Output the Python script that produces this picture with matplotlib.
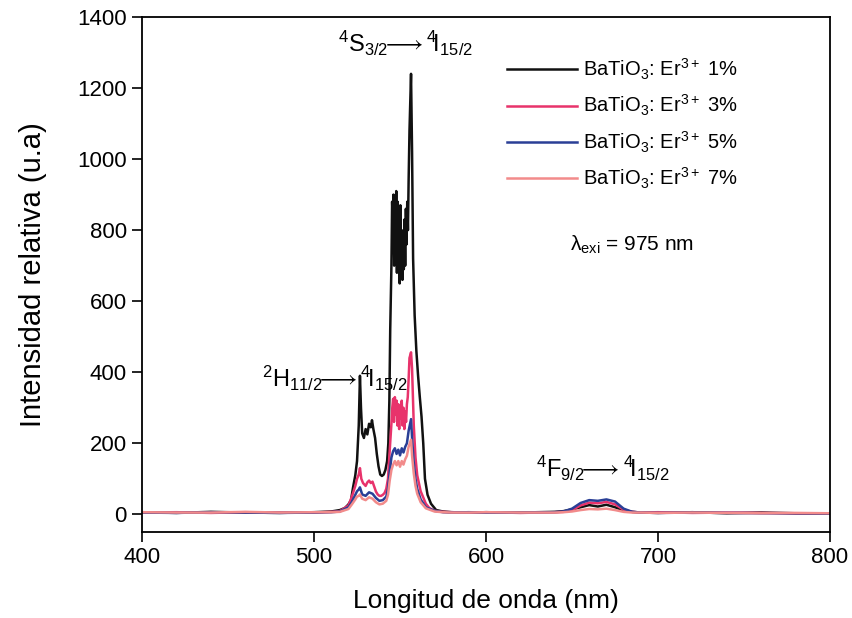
import matplotlib
matplotlib.use("Agg")
import matplotlib.pyplot as plt
import numpy as np

plt.rcParams['font.family'] = ['Liberation Sans', 'DejaVu Sans']
plt.rcParams['mathtext.fontset'] = 'custom'
plt.rcParams['mathtext.rm'] = 'Liberation Sans'
plt.rcParams['mathtext.it'] = 'Liberation Sans:italic'

# espectros (longitud de onda en nm, intensidad en u.a.)
wl_1 = [400, 420, 440, 460, 480, 500, 510, 515, 518, 520, 521.5, 522.7, 524, 525, 526, 526.7, 527.3, 528,
        529, 530, 531, 532, 533, 533.7, 534.5, 535.5, 536.5, 537.5, 538.5, 539.5, 540.5, 541.5, 542.5, 543.2,
        543.8, 544.3, 545, 545.4, 545.8, 546.2, 546.6, 547, 547.4, 547.8, 548.2, 548.6, 549, 549.4, 549.8,
        550.2, 550.6, 551, 551.4, 551.8, 552.2, 552.6, 553, 553.4, 553.8, 554.2, 554.6, 555, 555.5, 556.4,
        557, 557.6, 558.5, 559.5, 560.5, 561.5, 562.5, 563.5, 564.5, 566, 568, 571, 575, 580, 590, 600, 620,
        640, 645, 650, 655, 660, 665, 670, 675, 680, 685, 690, 700, 720, 740, 760, 780, 800]
int_1 = [6, 4, 7, 5, 4, 6, 8, 12, 18, 28, 40, 76, 110, 150, 250, 390, 300, 228, 215, 240, 225, 255, 245, 265,
         240, 215, 170, 135, 112, 108, 112, 125, 150, 200, 320, 520, 700, 880, 820, 900, 700, 860, 760, 910,
         680, 880, 700, 820, 650, 870, 720, 800, 660, 780, 690, 830, 700, 860, 760, 880, 800, 940, 1080, 1240,
         1020, 720, 560, 460, 390, 330, 275, 200, 100, 55, 30, 12, 8, 6, 5, 6, 5, 7, 9, 14, 20, 26, 22, 27, 20,
         11, 7, 5, 4, 6, 3, 5, 3, 2]

wl_3 = [400, 420, 440, 460, 480, 500, 510, 515, 520, 522, 524, 525, 526, 526.7, 527.5, 528.5, 530, 531, 532,
        533, 534, 535, 536, 537, 538, 539, 540, 541, 542, 543, 544, 545, 545.5, 546, 546.5, 547, 547.5, 548,
        548.5, 549, 549.5, 550, 550.5, 551, 551.5, 552, 552.5, 553, 553.5, 554, 554.5, 555, 555.5, 556.4, 557,
        557.5, 558, 559, 560, 562, 565, 567, 570, 575, 580, 590, 600, 620, 640, 645, 650, 655, 660, 665, 670,
        675, 680, 685, 690, 700, 720, 740, 760, 780, 800]
int_3 = [5, 6, 4, 6, 5, 5, 7, 9, 25, 50, 80, 100, 112, 130, 100, 88, 80, 90, 95, 88, 92, 78, 64, 56, 52, 52,
         55, 60, 72, 100, 180, 255, 300, 325, 260, 330, 280, 320, 250, 310, 240, 300, 270, 320, 250, 300, 240,
         290, 260, 310, 330, 380, 440, 456, 410, 330, 250, 160, 110, 65, 30, 18, 10, 7, 6, 5, 6, 4, 6, 7, 12,
         25, 33, 31, 35, 28, 13, 7, 5, 6, 4, 5, 4, 3, 3]

wl_5 = [400, 420, 440, 460, 480, 500, 510, 515, 520, 522, 524, 525, 526, 526.7, 528, 530, 532, 534, 536, 538,
        540, 542, 543, 544, 545, 546, 547, 548, 549, 550, 551, 552, 553, 554, 555, 556.4, 557, 558, 559, 560,
        562, 565, 570, 575, 580, 590, 600, 620, 640, 645, 650, 655, 660, 665, 670, 675, 680, 685, 690, 700,
        720, 740, 760, 780, 800]
int_5 = [5, 4, 6, 5, 4, 5, 6, 8, 20, 35, 55, 65, 70, 76, 56, 52, 62, 58, 46, 38, 40, 50, 72, 120, 160, 178,
         186, 170, 182, 166, 186, 174, 190, 200, 235, 268, 215, 145, 100, 72, 42, 20, 10, 6, 5, 6, 5, 5, 6, 8,
         16, 32, 40, 38, 42, 36, 16, 7, 5, 4, 5, 4, 3, 3, 2]

wl_7 = [400, 420, 440, 460, 480, 500, 510, 515, 520, 522, 524, 525, 526, 526.7, 528, 530, 532, 534, 536, 538,
        540, 542, 543, 544, 545, 546, 547, 548, 549, 550, 551, 552, 553, 554, 555, 556.4, 557, 558, 559, 560,
        562, 565, 570, 575, 580, 590, 600, 620, 640, 645, 650, 655, 660, 665, 670, 675, 680, 685, 690, 700,
        720, 740, 760, 780, 800]
int_7 = [6, 5, 5, 7, 5, 6, 6, 7, 15, 28, 42, 50, 52, 56, 44, 40, 48, 44, 34, 28, 30, 38, 55, 95, 125, 140,
         150, 138, 150, 134, 150, 140, 155, 165, 190, 210, 165, 115, 80, 58, 34, 17, 8, 6, 5, 5, 6, 5, 5, 6,
         8, 12, 15, 14, 16, 12, 7, 5, 5, 4, 5, 4, 3, 4, 3]

series = [(wl_1, int_1, '#111111', 'BaTiO$_3$: Er$^{3+}$ 1%'),
          (wl_3, int_3, '#e8336b', 'BaTiO$_3$: Er$^{3+}$ 3%'),
          (wl_5, int_5, '#2a3f96', 'BaTiO$_3$: Er$^{3+}$ 5%'),
          (wl_7, int_7, '#f28b8b', 'BaTiO$_3$: Er$^{3+}$ 7%')]

fig = plt.figure(figsize=(8.52, 6.18), dpi=100)
ax = fig.add_axes([0.1667, 0.139, 0.8075, 0.8335])

for wl, inten, color, label in series:
    ax.plot(wl, inten, color=color, lw=1.8, label=label)

ax.set_xlim(400, 800)
ax.set_ylim(-50, 1400)
ax.set_xticks([400, 500, 600, 700, 800])
ax.set_yticks(range(0, 1401, 200))
ax.tick_params(direction='out', length=7, width=1.2, labelsize=16, pad=4)
for s in ax.spines.values():
    s.set_linewidth(1.3)

ax.set_xlabel('Longitud de onda (nm)', fontsize=19, labelpad=15)
ax.set_ylabel('Intensidad relativa (u.a)', fontsize=21, labelpad=22)

leg = ax.legend(loc='upper right', bbox_to_anchor=(0.892, 0.958), frameon=False, fontsize=14.5,
                handlelength=3.5, handletextpad=0.3, labelspacing=0.55)

ax.text(685, 758, r'λ$_{\mathrm{exi}}$ = 975 nm', fontsize=15, ha='center', va='center')
ax.text(553, 1325, r'$^{4}\mathrm{S}_{3/2}\!\!\longrightarrow^{4}\!\mathrm{I}_{15/2}$', fontsize=17,
        ha='center', va='center')
ax.text(512, 383, r'$^{2}\mathrm{H}_{11/2}\!\!\longrightarrow^{4}\!\mathrm{I}_{15/2}$', fontsize=17,
        ha='center', va='center')
ax.text(668, 130, r'$^{4}\mathrm{F}_{9/2}\!\!\longrightarrow^{4}\!\mathrm{I}_{15/2}$', fontsize=17,
        ha='center', va='center')

fig.savefig('out.png', dpi=100)
